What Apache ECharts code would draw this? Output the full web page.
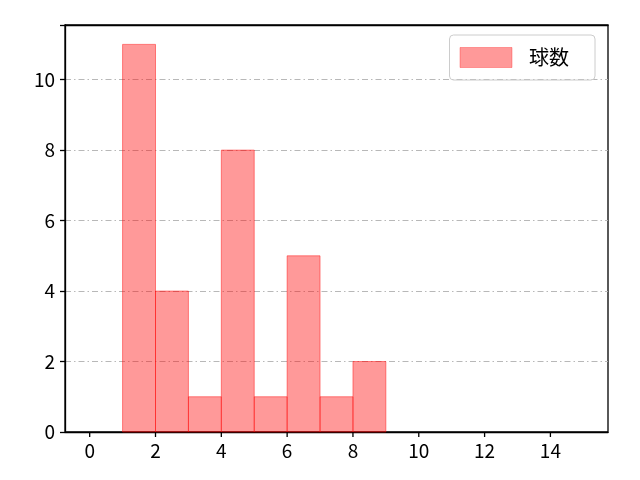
<!DOCTYPE html>
<html><head><meta charset="utf-8">
<script src="https://cdn.jsdelivr.net/npm/echarts@6/dist/echarts.min.js"></script>
<style>html,body{margin:0;padding:0;background:#fff}#c{width:640px;height:480px}</style>
</head><body><div id="c"></div>
<script>
const binStarts = [1, 2, 3, 4, 5, 6, 7, 8];
const binEnds = [2, 3, 4, 5, 6, 7, 8, 9];
const counts = [11, 4, 1, 8, 1, 5, 1, 2];
const xTicks = [0, 2, 4, 6, 8, 10, 12, 14];
const yTicks = [0, 2, 4, 6, 8, 10];
const seriesName = '球数';

const X_MIN = -0.75, X_MAX = 15.75, Y_MAX = 11.55;
const data = binStarts.map((s, i) => [s, binEnds[i], counts[i]]);
const font = 'Noto Sans CJK JP';
const TICK = 5;
const chart = echarts.init(document.getElementById('c'));

chart.setOption({
  animation: false,
  textStyle: { fontFamily: font },
  grid: { left: 65, right: 32, top: 25, bottom: 48, show: true, borderColor: '#000', borderWidth: 1.3, backgroundColor: 'transparent' },
  legend: {
    right: 45, top: 35, orient: 'vertical',
    itemWidth: 52, itemHeight: 20, itemGap: 10,
    padding: [12, 26, 12, 10],
    borderColor: '#cccccc', borderWidth: 1, borderRadius: 4,
    itemStyle: { borderWidth: 1, borderColor: 'rgba(255,0,0,0.3)' },
    textStyle: { fontSize: 20, color: '#000', fontFamily: font, padding: [0, 0, 0, 12] },
    data: [{ name: seriesName, icon: 'rect' }]
  },
  xAxis: [{
    type: 'value', min: X_MIN, max: X_MAX,
    axisLine: { show: true, onZero: false, lineStyle: { color: '#000', width: 1.3 } },
    axisTick: { show: false },
    axisLabel: { fontSize: 19, color: '#000', margin: 9, customValues: xTicks, fontFamily: font },
    splitLine: { show: false }
  }, {
    type: 'value', min: X_MIN, max: X_MAX, position: 'top', z: 4,
    axisLine: { show: true, onZero: false, lineStyle: { color: '#000', width: 1.3 } },
    axisTick: { show: false }, axisLabel: { show: false }, splitLine: { show: false }
  }],
  yAxis: {
    type: 'value', min: 0, max: Y_MAX, interval: 2,
    axisLine: { show: true, onZero: false, lineStyle: { color: '#000', width: 1.3 } },
    axisTick: { show: true, inside: false, length: TICK, lineStyle: { color: '#000', width: 1.3 } },
    axisLabel: { fontSize: 19, color: '#000', margin: 10, fontFamily: font, customValues: yTicks },
    splitLine: { show: true, lineStyle: { color: '#b0b0b0', width: 0.9, type: [6, 3, 1.5, 3] } }
  },
  series: [{
    name: seriesName,
    type: 'custom',
    itemStyle: { color: 'rgba(255,0,0,0.4)', borderColor: 'rgba(255,0,0,0.3)', borderWidth: 1 },
    renderItem: function (params, api) {
      const p0 = api.coord([api.value(0), 0]);
      const p1 = api.coord([api.value(1), api.value(2)]);
      return {
        type: 'rect',
        shape: { x: p0[0], y: p1[1], width: p1[0] - p0[0], height: p0[1] - p1[1] },
        style: { fill: 'rgba(255,0,0,0.4)', stroke: 'rgba(255,0,0,0.45)', lineWidth: 1 }
      };
    },
    encode: { x: [0, 1], y: 2 },
    data: data
  }, {
    name: 'xticks',
    type: 'custom', clip: false, z: 5,
    data: xTicks.map(v => [v, 0]),
    encode: { x: 0, y: 1 },
    renderItem: function (params, api) {
      const p = api.coord([api.value(0), api.value(1)]);
      return { type: 'rect', shape: { x: p[0] - 0.65, y: p[1], width: 1.3, height: TICK }, style: { fill: '#000' } };
    }
  }]
});
</script></body></html>
